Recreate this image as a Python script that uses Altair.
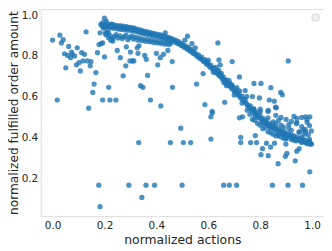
import altair as alt
import pandas as pd

# ---- scattered points ----
scatter_x = [0.000, 0.028, 0.041, 0.034, 0.062, 0.095, 0.129, 0.046, 0.058, 0.073,
             0.077, 0.085, 0.069, 0.112, 0.123, 0.092, 0.102, 0.117, 0.134, 0.148,
             0.145, 0.107, 0.051, 0.167, 0.160, 0.155, 0.200, 0.173, 0.179, 0.193,
             0.187, 0.224, 0.232, 0.249, 0.261, 0.282, 0.272, 0.216, 0.298, 0.308,
             0.300, 0.284, 0.018, 0.139, 0.193, 0.221, 0.244, 0.200, 0.207, 0.196,
             0.183, 0.203, 0.215, 0.228,
             0.637, 0.520, 0.510, 0.537, 0.550, 0.434, 0.444, 0.427, 0.415, 0.400,
             0.405, 0.461, 0.462, 0.366, 0.339, 0.348, 0.377, 0.417, 0.361, 0.355,
             0.329, 0.313, 0.326, 0.333, 0.555, 0.587, 0.615, 0.641, 0.646, 0.580,
             0.663,
             0.692, 0.908, 0.720, 0.776, 0.803, 0.742, 0.841, 0.879, 0.885, 0.797,
             0.770, 0.748, 0.835, 0.854, 0.859, 0.862, 0.831, 0.776,
             0.615, 0.610, 0.494, 0.332, 0.454, 0.504, 0.532, 0.610, 0.360, 0.393,
             0.499, 0.344, 0.659, 0.681, 0.709, 0.178, 0.294, 0.183,
             0.847, 0.907, 0.963, 0.991, 0.869, 0.935, 0.803, 0.831, 0.897, 0.903,
             0.941, 0.809, 0.950, 0.725, 0.725, 0.763, 0.786, 0.781, 0.720, 0.732,
             0.941, 0.941, 0.975, 0.991, 0.981, 0.997, 0.973, 0.950, 0.824, 0.840,
             0.855, 0.899, 0.960, 0.990]
scatter_y = [0.878, 0.902, 0.880, 0.864, 0.847, 0.840, 0.918, 0.811, 0.803, 0.819,
             0.808, 0.800, 0.792, 0.816, 0.808, 0.757, 0.768, 0.776, 0.776, 0.773,
             0.752, 0.727, 0.742, 0.719, 0.663, 0.622, 0.796, 0.816, 0.856, 0.864,
             0.861, 0.877, 0.873, 0.827, 0.792, 0.752, 0.703, 0.647, 0.776, 0.776,
             0.819, 0.845, 0.585, 0.545, 0.585, 0.585, 0.585, 0.985, 0.970, 0.937,
             0.913, 0.913, 0.916, 0.956,
             0.864, 0.897, 0.878, 0.860, 0.840, 0.913, 0.827, 0.808, 0.792, 0.813,
             0.757, 0.773, 0.647, 0.705, 0.655, 0.647, 0.585, 0.556, 0.784, 0.803,
             0.813, 0.776, 0.840, 0.850, 0.663, 0.563, 0.530, 0.781, 0.757, 0.714,
             0.574,
             0.773, 0.776, 0.698, 0.666, 0.666, 0.631, 0.645, 0.622, 0.611, 0.595,
             0.602, 0.602, 0.585, 0.579, 0.550, 0.547, 0.534, 0.542,
             0.522, 0.503, 0.447, 0.377, 0.377, 0.377, 0.377, 0.394, 0.169, 0.169,
             0.169, 0.109, 0.169, 0.169, 0.169, 0.169, 0.169, 0.064,
             0.169, 0.169, 0.169, 0.234, 0.274, 0.288, 0.318, 0.313, 0.310, 0.324,
             0.335, 0.347, 0.347, 0.403, 0.377, 0.377, 0.377, 0.411, 0.498, 0.503,
             0.495, 0.474, 0.503, 0.503, 0.476, 0.434, 0.442, 0.429, 0.374, 0.355,
             0.374, 0.370, 0.380, 0.370]

# ---- dense band (read / estimated from picture) ----
band_x = [0.186, 0.190, 0.193, 0.197, 0.200, 0.203, 0.206, 0.210, 0.213, 0.216,
          0.220, 0.223, 0.226, 0.230, 0.233, 0.236, 0.240, 0.243, 0.246, 0.250,
          0.253, 0.256, 0.260, 0.263, 0.266, 0.270, 0.273, 0.276, 0.280, 0.283,
          0.286, 0.290, 0.293, 0.296, 0.300, 0.303, 0.306, 0.310, 0.313, 0.316,
          0.320,
          0.205, 0.210, 0.215, 0.222, 0.230, 0.238, 0.245, 0.252, 0.260, 0.268,
          0.275, 0.283, 0.290, 0.298, 0.305, 0.312, 0.320, 0.328, 0.335, 0.343,
          0.350, 0.358, 0.365, 0.373, 0.380, 0.388, 0.395, 0.403, 0.410, 0.418,
          0.425, 0.433, 0.440, 0.448, 0.455,
          0.323, 0.327, 0.330, 0.334, 0.338, 0.342, 0.346, 0.350, 0.354, 0.358,
          0.362, 0.366, 0.370, 0.374, 0.378, 0.382, 0.386, 0.390, 0.394, 0.398,
          0.402, 0.406, 0.410, 0.414, 0.418, 0.422, 0.426, 0.430, 0.434, 0.438,
          0.442, 0.446, 0.450, 0.454, 0.458, 0.462, 0.466, 0.470, 0.474, 0.478,
          0.482, 0.486, 0.490, 0.494, 0.498, 0.502, 0.506, 0.510, 0.514, 0.518,
          0.522, 0.526, 0.530, 0.534, 0.538, 0.542, 0.546, 0.550,
          0.554, 0.558, 0.562, 0.566, 0.570, 0.574, 0.578, 0.582, 0.586, 0.590,
          0.594, 0.598, 0.602, 0.606, 0.610, 0.614, 0.618, 0.622, 0.626, 0.630,
          0.634, 0.638, 0.642, 0.646, 0.650, 0.654, 0.658, 0.662, 0.666, 0.670,
          0.674, 0.678, 0.682, 0.686, 0.690, 0.694, 0.698, 0.702, 0.706, 0.710,
          0.714, 0.718, 0.722, 0.726, 0.730, 0.734, 0.738, 0.742, 0.746, 0.750,
          0.600, 0.620, 0.640, 0.660, 0.680, 0.700, 0.720, 0.730, 0.690, 0.710,
          0.650, 0.630, 0.670,
          0.754, 0.758, 0.762, 0.766, 0.770, 0.774, 0.778, 0.782, 0.786, 0.790,
          0.794, 0.798, 0.802, 0.806, 0.810, 0.814, 0.818, 0.822, 0.826, 0.830,
          0.834, 0.838, 0.842, 0.846, 0.850, 0.854, 0.858, 0.862, 0.866, 0.870,
          0.874, 0.878, 0.882, 0.886, 0.890, 0.894, 0.898, 0.902, 0.906, 0.910,
          0.914, 0.918, 0.922, 0.926, 0.930, 0.934, 0.938, 0.942, 0.946, 0.950,
          0.954, 0.958, 0.962, 0.966, 0.970, 0.974, 0.978, 0.982, 0.986, 0.990,
          0.994, 0.998,
          0.760, 0.770, 0.780, 0.790, 0.800, 0.810, 0.820, 0.830, 0.840, 0.850,
          0.860, 0.870, 0.880, 0.890, 0.900, 0.920, 0.940, 0.960, 0.980, 0.750,
          0.780, 0.810, 0.840, 0.870, 0.900, 0.930, 0.960, 0.990, 0.800, 0.830,
          0.860, 0.890, 0.920, 0.950, 0.970, 0.850, 0.880, 0.910,
          0.860, 0.880, 0.900, 0.930, 0.960, 0.980, 0.800, 0.830, 0.870, 0.920,
          0.940, 0.990, 0.960, 0.910, 0.975, 0.985, 0.965]
band_y = [0.955, 0.948, 0.962, 0.940, 0.952, 0.944, 0.958, 0.936, 0.950, 0.945,
          0.955, 0.938, 0.948, 0.942, 0.953, 0.935, 0.946, 0.940, 0.950, 0.932,
          0.944, 0.938, 0.948, 0.930, 0.942, 0.936, 0.946, 0.928, 0.940, 0.934,
          0.943, 0.926, 0.938, 0.932, 0.940, 0.924, 0.935, 0.929, 0.937, 0.921,
          0.932,
          0.905, 0.912, 0.890, 0.900, 0.885, 0.895, 0.905, 0.888, 0.898, 0.885,
          0.893, 0.902, 0.880, 0.890, 0.897, 0.883, 0.892, 0.878, 0.888, 0.875,
          0.884, 0.872, 0.880, 0.870, 0.877, 0.866, 0.874, 0.864, 0.870, 0.861,
          0.868, 0.858, 0.865, 0.856, 0.862,
          0.925, 0.918, 0.930, 0.922, 0.914, 0.926, 0.918, 0.910, 0.922, 0.914,
          0.906, 0.918, 0.910, 0.903, 0.914, 0.907, 0.900, 0.911, 0.903, 0.896,
          0.907, 0.900, 0.893, 0.904, 0.896, 0.889, 0.900, 0.892, 0.885, 0.895,
          0.887, 0.880, 0.890, 0.882, 0.875, 0.884, 0.876, 0.868, 0.878, 0.869,
          0.861, 0.870, 0.861, 0.852, 0.862, 0.852, 0.843, 0.851, 0.842, 0.834,
          0.843, 0.832, 0.823, 0.832, 0.821, 0.812, 0.820, 0.810,
          0.805, 0.797, 0.806, 0.792, 0.786, 0.795, 0.780, 0.773, 0.782, 0.768,
          0.760, 0.769, 0.755, 0.746, 0.756, 0.741, 0.733, 0.742, 0.727, 0.718,
          0.728, 0.712, 0.703, 0.713, 0.697, 0.688, 0.698, 0.682, 0.673, 0.683,
          0.666, 0.657, 0.667, 0.650, 0.641, 0.651, 0.634, 0.625, 0.636, 0.618,
          0.609, 0.620, 0.602, 0.593, 0.604, 0.586, 0.577, 0.588, 0.570, 0.561,
          0.780, 0.720, 0.730, 0.670, 0.680, 0.610, 0.630, 0.570, 0.660, 0.645,
          0.715, 0.745, 0.655,
          0.555, 0.545, 0.556, 0.538, 0.530, 0.541, 0.522, 0.514, 0.526, 0.507,
          0.500, 0.511, 0.494, 0.486, 0.497, 0.480, 0.474, 0.484, 0.468, 0.462,
          0.472, 0.457, 0.452, 0.462, 0.447, 0.443, 0.452, 0.438, 0.435, 0.444,
          0.430, 0.427, 0.436, 0.423, 0.420, 0.429, 0.416, 0.413, 0.422, 0.410,
          0.407, 0.416, 0.404, 0.401, 0.410, 0.398, 0.395, 0.404, 0.392, 0.390,
          0.398, 0.387, 0.384, 0.393, 0.382, 0.379, 0.388, 0.377, 0.374, 0.383,
          0.372, 0.370,
          0.515, 0.490, 0.485, 0.470, 0.462, 0.445, 0.452, 0.430, 0.425, 0.418,
          0.410, 0.410, 0.405, 0.398, 0.395, 0.392, 0.385, 0.378, 0.372, 0.535,
          0.505, 0.472, 0.448, 0.418, 0.402, 0.388, 0.402, 0.393, 0.528, 0.498,
          0.468, 0.452, 0.437, 0.428, 0.418, 0.478, 0.462, 0.448,
          0.510, 0.500, 0.490, 0.505, 0.500, 0.490, 0.540, 0.530, 0.485, 0.480,
          0.470, 0.460, 0.455, 0.465, 0.430, 0.415, 0.440]

df = pd.DataFrame({"x": scatter_x + band_x, "y": scatter_y + band_y})

x_domain = [-0.0458, 1.0458]
y_domain = [0.0174, 1.029]
x_ticks = [0.0, 0.2, 0.4, 0.6, 0.8, 1.0]
y_ticks = [0.2, 0.4, 0.6, 0.8, 1.0]

points = alt.Chart(df).mark_circle(size=28, color="#1f77b4", opacity=0.8).encode(
    x=alt.X("x:Q", scale=alt.Scale(domain=x_domain, nice=False, zero=False),
            axis=alt.Axis(values=x_ticks, format=".1f", title="normalized actions",
                          grid=True, gridColor="white", gridWidth=1, domain=False,
                          ticks=False, labelPadding=4, labelFontSize=10.5,
                          labelColor="#262626", labelFont="DejaVu Sans",
                          titleFont="DejaVu Sans", titleFontSize=12.5,
                          titleFontWeight="normal", titleColor="#262626",
                          titlePadding=3, labelFlush=False)),
    y=alt.Y("y:Q", scale=alt.Scale(domain=y_domain, nice=False, zero=False),
            axis=alt.Axis(values=y_ticks, format=".1f",
                          title="normalized fulfilled order amount",
                          grid=True, gridColor="white", gridWidth=1, domain=False,
                          ticks=False, labelPadding=3, labelFontSize=10.5,
                          labelColor="#262626", labelFont="DejaVu Sans",
                          titleFont="DejaVu Sans", titleFontSize=12.3,
                          titleFontWeight="normal", titleColor="#262626",
                          titlePadding=0.5, labelFlush=False)),
)

legend_box = alt.Chart(pd.DataFrame({"k": [0]})).mark_rect(
    fill="#f0f0f5", stroke="#cccccc", strokeWidth=0.8, cornerRadius=1.5
).encode(x=alt.value(274), x2=alt.value(281), y=alt.value(5), y2=alt.value(12))

chart = alt.layer(points, legend_box).properties(
    width=286, height=209,
    autosize=alt.AutoSizeParams(type="none"),
    padding={"left": 33, "top": 0, "right": 0, "bottom": 32},
).configure_view(fill="#EAEAF2", stroke=None).configure(background="white")

chart.save("out.html", embed_options={"renderer": "svg", "actions": False})
